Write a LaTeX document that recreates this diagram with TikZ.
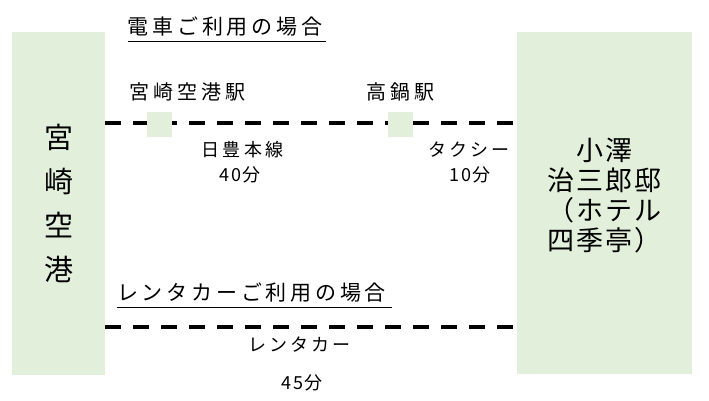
\documentclass[tikz,border=0pt]{standalone}
\usepackage{fontspec}
\setmainfont{Noto Sans CJK JP}
\definecolor{boxgreen}{HTML}{E2EFDA}
\tikzset{
	box/.style={fill=boxgreen,inner sep=0pt},
	route/.style={line width=4pt,dash pattern=on 16pt off 12pt},
	title/.style={inner sep=0pt,font=\fontsize{21}{25}\selectfont\addfontfeature{LetterSpace=18}},
	stn/.style={font=\fontsize{20}{24}\selectfont\addfontfeature{LetterSpace=20}},
	lbl/.style={font=\fontsize{18}{22}\selectfont\addfontfeature{LetterSpace=17}},
	tm/.style={font=\fontsize{18}{22}\selectfont\addfontfeature{LetterSpace=8}}
}
\begin{document}
\begin{tikzpicture}[x=1pt,y=-1pt]
		\useasboundingbox(0,0)rectangle(709,401);
		\node[box,minimum width=93pt,minimum height=343pt,align=center,
			font=\fontsize{29}{44}\selectfont](kuko)at(58.5,203.5){宮\\崎\\空\\港};
		\node[box,minimum width=175pt,minimum height=342pt](tei)at(604.5,203){};
		\node[align=left,font=\fontsize{27}{30}\selectfont\addfontfeature{LetterSpace=7}](teitxt)at(604.5,196){　小澤\\治三郎邸\\（ホテル\\四季亭）};
		\node[title](tt1)at(225,27){電車ご利用の場合};
		\draw[thick](tt1.south west)++(0,4)--++(198,0);
		\node[stn](n1)at(187,92){宮崎空港駅};
		\node[stn](n2)at(400,92){高鍋駅};
		\draw[route](kuko.east|-0,123)coordinate(r1)--(tei.west|-r1);
		\node[box,minimum size=25pt](eki1)at(159.5,124.5){};
		\node[box,minimum size=25pt](eki2)at(400.5,124.5){};
		\node[lbl](l1)at(242.5,150){日豊本線};
		\node[tm](t1)at(240,175){40分};
		\node[lbl](l2)at(469,150){タクシー};
		\node[tm](t2)at(470,175){10分};
		\node[title](tt2)at(251.5,293){レンタカーご利用の場合};
		\draw[thick](tt2.south west)++(0,4)--++(275,0);
		\draw[route](kuko.east|-0,327)coordinate(r2)--(tei.west|-r2);
		\node[lbl](l3)at(299.5,345){レンタカー};
		\node[tm](t3)at(302,383){45分};
	\end{tikzpicture}
\end{document}
